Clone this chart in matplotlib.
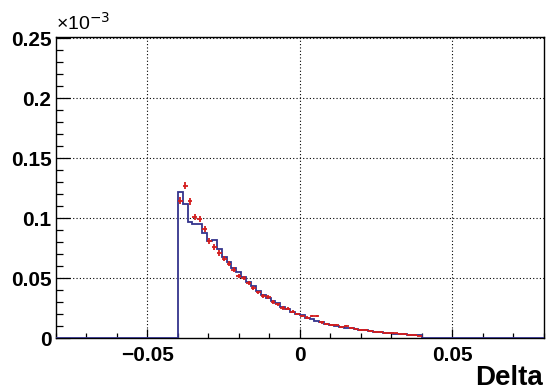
import numpy as np
import matplotlib
matplotlib.use("Agg")
import matplotlib.pyplot as plt
from matplotlib.ticker import MultipleLocator, FixedLocator

# Histogram binning: 100 bins on [-0.08, 0.08]; entries only in [-0.04, 0.04]
x_min, x_max, n_bins = -0.08, 0.08, 100
first_filled_bin = 25

# Bin contents in units of 1e-3 (filled bins only, left to right)
model_vals = [
    0.122, 0.112, 0.097, 0.095, 0.095, 0.088, 0.081, 0.082, 0.074, 0.068,
    0.063, 0.058, 0.055, 0.051, 0.047, 0.043, 0.039, 0.036, 0.033, 0.031,
    0.029, 0.026, 0.024, 0.022, 0.020, 0.019, 0.017, 0.0155, 0.014, 0.013,
    0.012, 0.0112, 0.0102, 0.0094, 0.0087, 0.0080, 0.0074, 0.0068, 0.0063, 0.0058,
    0.0052, 0.0048, 0.0044, 0.0040, 0.0037, 0.0034, 0.0031, 0.0028, 0.0025, 0.0022,
]
data_vals = [
    0.1145, 0.127, 0.114, 0.101, 0.0995, 0.091, 0.081, 0.076, 0.071, 0.066,
    0.062, 0.057, 0.052, 0.050, 0.046, 0.042, 0.038, 0.035, 0.034, 0.030,
    0.028, 0.025, 0.0245, 0.022, 0.020, 0.0185, 0.017, 0.0185, 0.0185, 0.013,
    0.012, 0.011, 0.0105, 0.0095, 0.0100, 0.0082, 0.0076, 0.0068, 0.0066, 0.0060,
    0.0053, 0.0049, 0.0045, 0.0040, 0.0038, 0.0035, 0.0031, 0.0028, 0.0022, 0.0020,
]
data_errs = [
    0.0029, 0.0030, 0.0028, 0.0027, 0.0027, 0.0025, 0.0023, 0.0023, 0.0022, 0.0021,
    0.0020, 0.0019, 0.0018, 0.0018, 0.0017, 0.0016, 0.0016, 0.0015, 0.0015, 0.0014,
    0.0013, 0.0013, 0.0013, 0.0012, 0.0011, 0.0011, 0.0010, 0.0011, 0.0011, 0.0009,
    0.0009, 0.0008, 0.0008, 0.0008, 0.0008, 0.0007, 0.0007, 0.0006, 0.0006, 0.0006,
    0.0006, 0.0005, 0.0005, 0.0005, 0.0005, 0.0004, 0.0004, 0.0004, 0.0004, 0.0003,
]

x_ticks = [-0.05, 0.0, 0.05]
x_tick_labels = ["\u22120.05", "0", "0.05"]
y_ticks = [0, 0.05, 0.1, 0.15, 0.2, 0.25]
y_tick_labels = ["0", "0.05", "0.1", "0.15", "0.2", "0.25"]
x_title = "Delta"

blue = "#34348c"
red = "#d41e1e"

edges = np.linspace(x_min, x_max, n_bins + 1)
width = edges[1] - edges[0]
model_full = np.zeros(n_bins)
model_full[first_filled_bin:first_filled_bin + len(model_vals)] = model_vals
centers = 0.5 * (edges[:-1] + edges[1:])
data_x = centers[first_filled_bin:first_filled_bin + len(data_vals)]

plt.rcParams["font.family"] = ["Liberation Sans", "DejaVu Sans"]

W, H = 548, 391
fig = plt.figure(figsize=(W / 100, H / 100), dpi=100)
ax = fig.add_axes([0.1016, 0.1355, 0.8911, 0.7711])

ax.set_xlim(x_min, x_max)
ax.set_ylim(0, 0.2515)

# dotted grid at the major ticks
for xv in x_ticks:
    ax.axvline(xv, color="black", lw=0.8, ls=(0, (1, 2)), zorder=1)
for yv in y_ticks[1:]:
    ax.axhline(yv, color="black", lw=0.8, ls=(0, (1, 2)), zorder=1)

ax.stairs(model_full, edges, color=blue, lw=1.3, zorder=3)
ax.errorbar(data_x, data_vals, xerr=width / 2, yerr=data_errs, fmt="none",
            ecolor=red, elinewidth=1.3, capsize=0, zorder=4)

ax.xaxis.set_major_locator(FixedLocator(x_ticks))
ax.set_xticklabels(x_tick_labels)
ax.xaxis.set_minor_locator(MultipleLocator(0.01))
ax.yaxis.set_major_locator(FixedLocator(y_ticks))
ax.set_yticklabels(y_tick_labels)
ax.yaxis.set_minor_locator(MultipleLocator(0.01))

ax.tick_params(axis="x", which="major", direction="in", length=6.5, width=0.9,
               top=False, pad=6, labelsize=15)
ax.tick_params(axis="x", which="minor", direction="in", length=3.6, width=0.9, top=False)
ax.tick_params(axis="y", which="major", direction="in", length=10, width=0.9,
               right=False, pad=3, labelsize=15)
ax.tick_params(axis="y", which="minor", direction="in", length=5, width=0.9, right=False)
for lab in ax.get_xticklabels() + ax.get_yticklabels():
    lab.set_fontweight("bold")

for sp in ax.spines.values():
    sp.set_linewidth(1.0)
    sp.set_color("black")

ax.text(0.0, 1.008, "\u00d710$^{\u22123}$", transform=ax.transAxes,
        ha="left", va="bottom", fontsize=14)
fig.text(543 / W, 1 - 385 / H, x_title, ha="right", va="baseline",
         fontsize=20, fontweight="bold")

fig.savefig("out.png", dpi=100)
